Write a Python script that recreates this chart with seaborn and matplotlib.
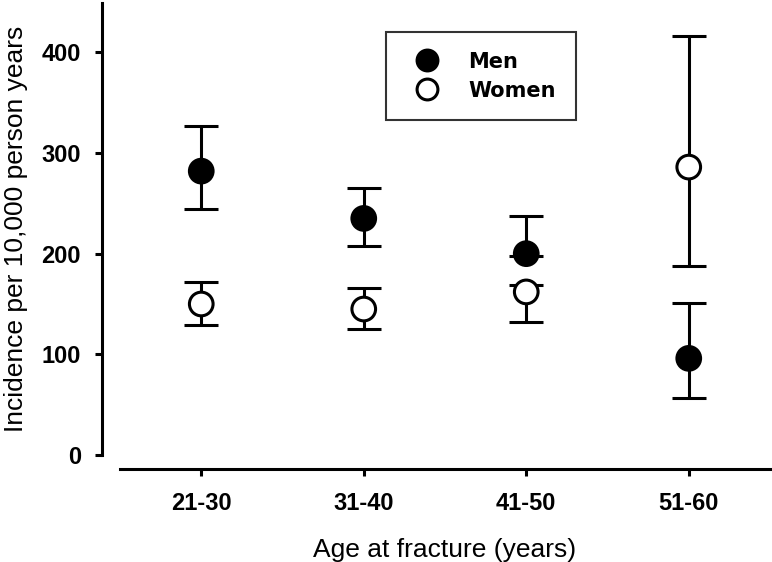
import numpy as np
import pandas as pd
import matplotlib
matplotlib.use("Agg")
import matplotlib.pyplot as plt
from matplotlib.lines import Line2D
import seaborn as sns

# data
age_groups = ["21-30", "31-40", "41-50", "51-60"]
men_rate = [282, 235, 200, 96]
men_low = [244, 208, 198, 57]
men_high = [327, 265, 237, 151]
women_rate = [150, 145, 162, 286]
women_low = [129, 125, 132, 188]
women_high = [172, 166, 169, 416]
y_ticks = [0, 100, 200, 300, 400]

sns.set_style("ticks")
plt.rcParams["font.family"] = ["Liberation Sans", "DejaVu Sans"]
plt.rcParams["text.color"] = "black"
plt.rcParams["axes.labelcolor"] = "black"
plt.rcParams["xtick.color"] = "black"
plt.rcParams["ytick.color"] = "black"

df = pd.DataFrame({
    "pos": list(range(len(age_groups))) * 2,
    "rate": men_rate + women_rate,
    "sex": ["Men"] * 4 + ["Women"] * 4,
})

fig = plt.figure(figsize=(7.72, 5.62), dpi=100)
ax = fig.add_axes([120 / 772, 107 / 562, 650 / 772, 452 / 562])

# error bars first so markers sit on top
for rate, low, high in [(men_rate, men_low, men_high), (women_rate, women_low, women_high)]:
    x = np.arange(len(age_groups))
    yerr = [np.array(rate) - np.array(low), np.array(high) - np.array(rate)]
    ax.errorbar(x, rate, yerr=yerr, fmt="none", ecolor="black",
                elinewidth=2.2, capsize=12.5, capthick=2.2, zorder=2)

sns.scatterplot(data=df, x="pos", y="rate", hue="sex", style="sex",
                palette={"Men": "black", "Women": "white"},
                markers={"Men": "o", "Women": "o"},
                s=290, edgecolor="black", linewidth=2.2, zorder=3,
                legend=False, ax=ax)

ax.set_xlim(-0.5, 3.5)
ax.set_ylim(0, 449)

sns.despine(ax=ax)
ax.spines["left"].set_position(("outward", 13))
ax.spines["bottom"].set_position(("outward", 10))
for side in ["left", "bottom"]:
    ax.spines[side].set_linewidth(2.2)
    ax.spines[side].set_color("black")

# ticks after the spines are moved (moving them resets the ticks)
ax.set_yticks(y_ticks, labels=[str(v) for v in y_ticks], fontweight="bold")
ax.set_xticks(range(len(age_groups)), labels=age_groups, fontweight="bold")
ax.tick_params(axis="both", direction="out", length=5, width=2.2,
               color="black", labelsize=17, labelcolor="black")
ax.tick_params(axis="y", pad=10)
ax.tick_params(axis="x", pad=12)

ax.set_xlabel("Age at fracture (years)", fontsize=19, labelpad=16)
ax.set_ylabel("Incidence per 10,000 person years", fontsize=19, labelpad=10)

# legend
handles = [
    Line2D([], [], marker="o", linestyle="none", markersize=15,
           markerfacecolor="black", markeredgecolor="black", markeredgewidth=2.2),
    Line2D([], [], marker="o", linestyle="none", markersize=15,
           markerfacecolor="white", markeredgecolor="black", markeredgewidth=2.2),
]
leg = fig.legend(handles, ["Men", "Women"], loc="upper left",
                 bbox_to_anchor=(386 / 772, 1 - 32 / 562),
                 frameon=True, fancybox=False, edgecolor="black",
                 prop={"family": "DejaVu Sans", "weight": "bold", "size": 15},
                 handlelength=2.0, handletextpad=1.0, labelspacing=0.42,
                 borderpad=0.95, borderaxespad=0)
leg.get_frame().set_linewidth(1.5)
for t in leg.get_texts():
    t.set_color("black")

fig.savefig("out.png", dpi=100)
